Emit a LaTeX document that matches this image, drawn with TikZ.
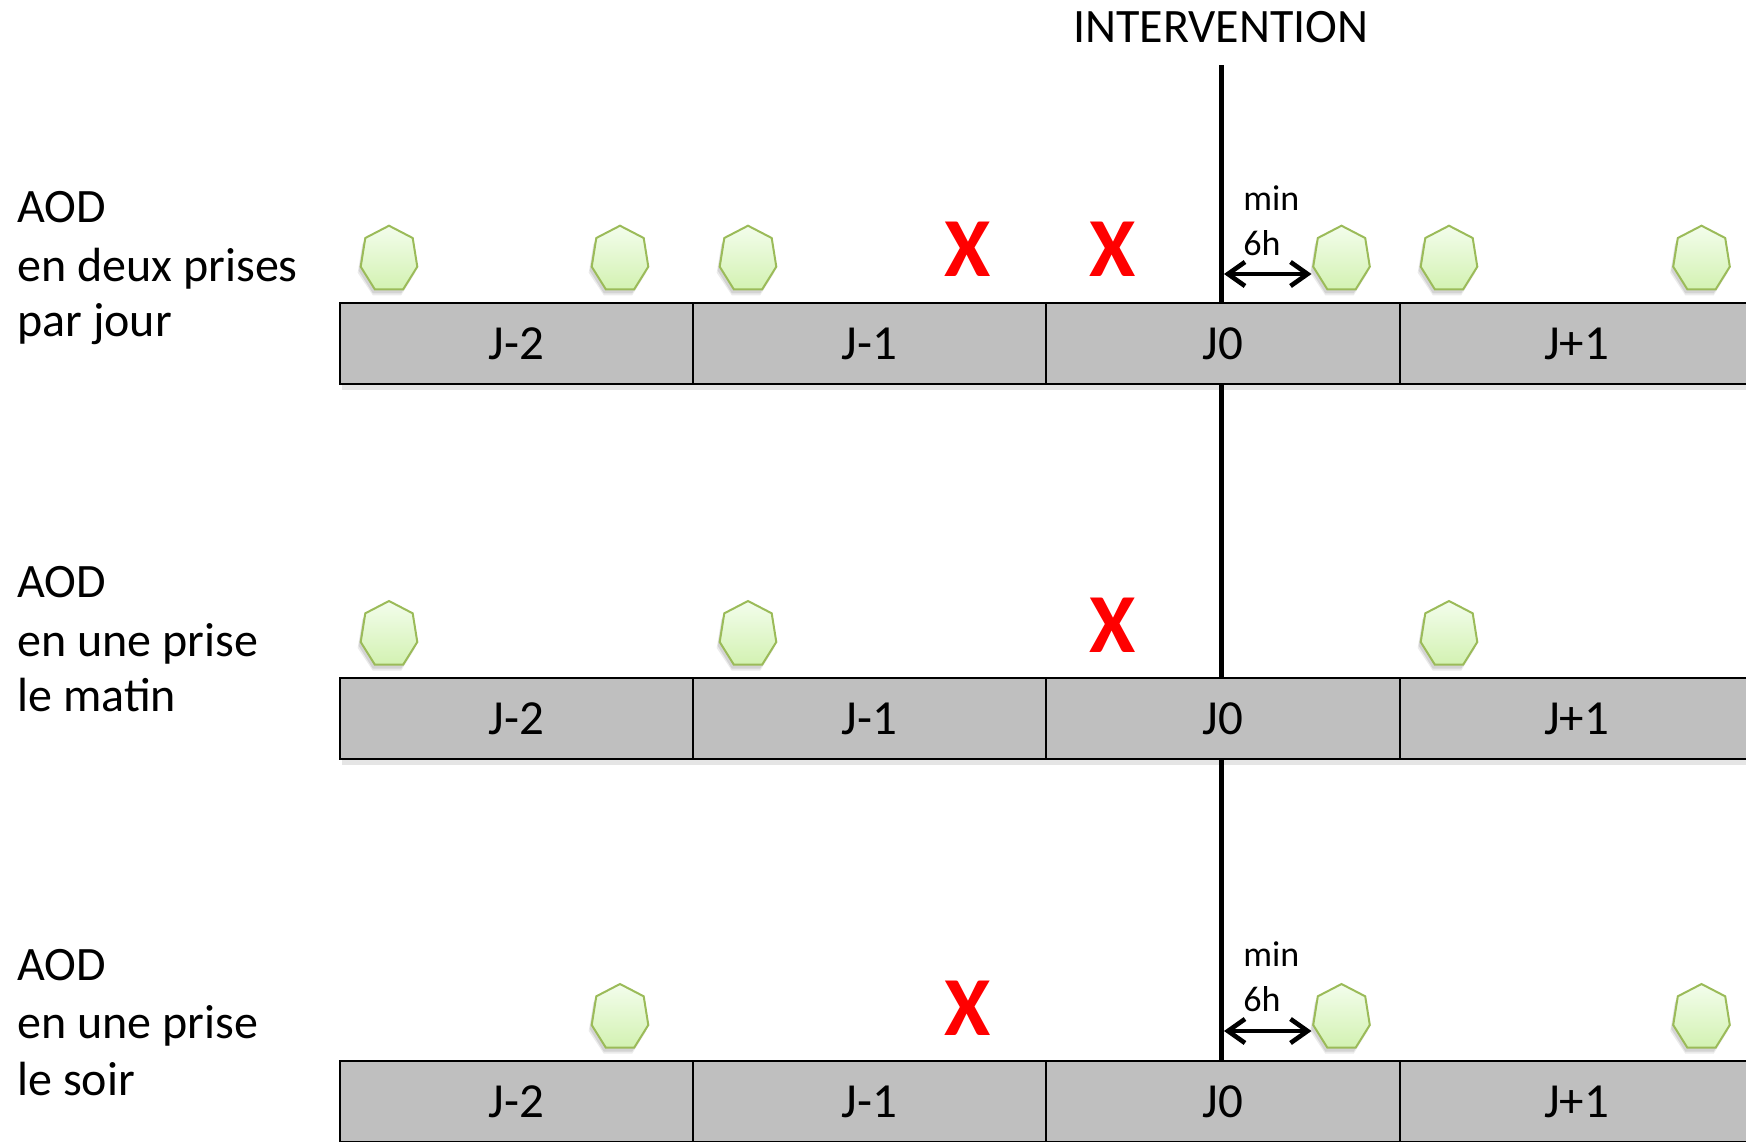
\documentclass[tikz,border=0pt]{standalone}
\usepackage{fontspec}
\setmainfont{Carlito}
\usetikzlibrary{arrows.meta}
\definecolor{barfill}{HTML}{BFBFBF}
\definecolor{heptline}{HTML}{9BBB59}
\definecolor{hepttop}{HTML}{F3FDEC}
\definecolor{heptbot}{HTML}{D3F2B2}
\definecolor{xred}{HTML}{FF0000}
\begin{document}
\begin{tikzpicture}[x=0.5pt,y=-0.5pt,
  cell/.style={draw=black, line width=1pt, fill=barfill, minimum width=176.7pt, minimum height=40.65pt, inner sep=0pt, font=\fontsize{24.5}{28}\selectfont},
  lbl/.style={anchor=base west, inner sep=0pt, font=\fontsize{24}{28}\selectfont},
  cross/.style={text=xred, inner sep=0pt, font=\fontsize{42}{48}\selectfont\bfseries},
  note/.style={anchor=base west, inner sep=0pt, font=\fontsize{18}{21}\selectfont},
  gap/.style={line width=2.3pt, {Straight Barb[length=8.5pt,width=12pt]}-{Straight Barb[length=8.5pt,width=12pt]}},
  hept/.pic={
    \fill[black,opacity=0.10] (-2,4) -- (21.7,16.3) -- (26.3,45) -- (12.2,67.6) -- (-16.2,67.6) -- (-30.3,45) -- (-25.7,16.3) -- cycle;
    \fill[black,opacity=0.08] (-3,6) -- (21.7,18.3) -- (26.3,47) -- (12.2,69.6) -- (-16.2,69.6) -- (-31.3,47) -- (-26.7,18.3) -- cycle;
    \draw[draw=heptline, line width=1pt, top color=hepttop, bottom color=heptbot]
      (0,0) -- (23.7,12.3) -- (28.3,41) -- (14.2,63.6) -- (-14.2,63.6) -- (-28.3,41) -- (-23.7,12.3) -- cycle;
  }
]
\path[use as bounding box] (0,0) rectangle (1746,1141);
\clip (0,0) rectangle (1746,1141);

% intervention line
\node[inner sep=0pt, font=\fontsize{24}{28}\selectfont] (interv) at (1221,26.7) {INTERVENTION};
\coordinate (itop) at (1221.5,65);
\coordinate (ibot) at (1221.5,1061);
\draw[line width=2.3pt] (itop) -- (ibot);

% bars
\foreach \r/\y in {1/343.6,2/718.8,3/1101.7}{
  \fill[black,opacity=0.10] (341.6,\y+40.65) rectangle (1760,\y+46.65);
  \foreach \c/\x/\t in {a/516.3/J-2, b/869.7/J-1, c/1223.1/J0, d/1576.5/J+1}{
    \node[cell] (r\r\c) at (\x,\y) {\t};
  }
}

% left labels
\node[lbl] (l1a) at (17,222.7) {AOD};
\node[lbl] (l1b) at (17,281.7) {en deux prises};
\node[lbl] (l1c) at (17,336.7) {par jour};
\node[lbl] (l2a) at (17,597.9) {AOD};
\node[lbl] (l2b) at (17,656.9) {en une prise};
\node[lbl] (l2c) at (17,711.9) {le matin};
\node[lbl] (l3a) at (17,980.7) {AOD};
\node[lbl] (l3b) at (17,1038.3) {en une prise};
\node[lbl] (l3c) at (17,1095) {le soir};

% heptagons
\pic (h11) at (389,225.7) {hept};
\pic (h12) at (620,225.7) {hept};
\pic (h13) at (748,225.7) {hept};
\pic (h14) at (1341.5,225.7) {hept};
\pic (h15) at (1449,225.7) {hept};
\pic (h16) at (1701.5,225.7) {hept};
\pic (h21) at (389,601) {hept};
\pic (h22) at (748,601) {hept};
\pic (h23) at (1449,601) {hept};
\pic (h31) at (620,984) {hept};
\pic (h32) at (1341.5,984) {hept};
\pic (h33) at (1701.5,984) {hept};

% crosses
\node[cross] (x11) at (968,249.7) {X};
\node[cross] (x12) at (1112.8,249.7) {X};
\node[cross] (x21) at (1112.8,625) {X};
\node[cross] (x31) at (968,1008) {X};

% min 6h
\node[note] (m1) at (1243,210) {min};
\node[note] (s1) at (1243,255) {6h};
\coordinate (g1s) at (1224,274);
\coordinate (g1e) at (1311.5,274);
\draw[gap] (g1s) -- (g1e);
\node[note] (m3) at (1243,966) {min};
\node[note] (s3) at (1243,1011) {6h};
\coordinate (g3s) at (1224,1031);
\coordinate (g3e) at (1311.5,1031);
\draw[gap] (g3s) -- (g3e);
\end{tikzpicture}
\end{document}
